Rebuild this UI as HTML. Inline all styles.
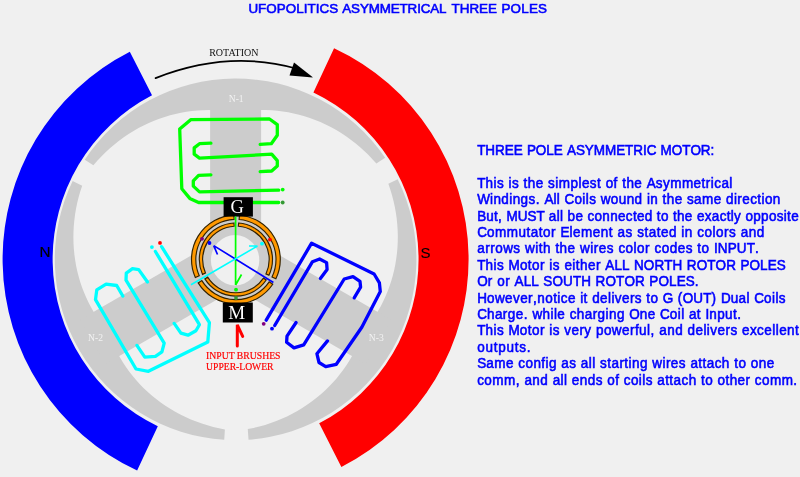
<!DOCTYPE html>
<html lang="en">
<head>
<meta charset="utf-8">
<title>UFOPOLITICS ASYMMETRICAL THREE POLES</title>
<style>
html,body{margin:0;padding:0;background:#f0f0f0;}
body{width:800px;height:477px;overflow:hidden;}
svg{display:block;will-change:transform;}
</style>
</head>
<body>
<svg width="800" height="477" viewBox="0 0 800 477">
<rect x="0" y="0" width="800" height="477" fill="#f0f0f0"/>
<path d="M334.07 48.13 A233.0 233.0 0 0 1 341.38 466.90 L319.18 423.33 A185.0 185.0 0 0 0 313.40 92.45 Z" fill="#ff0000"/>
<path d="M137.13 470.47 A233.0 233.0 0 0 1 129.82 51.70 L152.02 95.27 A185.0 185.0 0 0 0 157.80 426.15 Z" fill="#0000ff"/>
<path d="M84.75 159.64 A180.8 180.8 0 0 1 385.14 157.68 L376.39 163.62 L372.41 159.15 L368.29 154.84 L364.01 150.71 L359.61 146.76 L355.07 142.99 L350.42 139.41 L345.65 136.03 L340.78 132.84 L335.81 129.85 L330.75 127.06 L325.62 124.48 L320.41 122.11 L315.14 119.95 L309.82 118.00 L304.46 116.27 L299.06 114.75 L293.63 113.44 L288.18 112.35 L282.73 111.47 L277.27 110.80 L271.82 110.35 L266.39 110.11 L260.99 110.08 L255.62 110.26 L250.29 110.64 L245.01 111.23 L239.79 112.02 L234.64 112.61 L229.46 111.70 L224.22 110.99 L218.92 110.48 L213.58 110.17 L208.19 110.07 L202.78 110.18 L197.34 110.50 L191.89 111.03 L186.43 111.77 L180.98 112.73 L175.54 113.90 L170.12 115.29 L164.73 116.89 L159.38 118.71 L154.08 120.74 L148.84 122.98 L143.65 125.42 L138.55 128.08 L133.52 130.94 L128.59 134.01 L123.76 137.27 L119.03 140.73 L114.42 144.38 L109.93 148.21 L105.57 152.23 L101.36 156.43 L97.28 160.80 L93.37 165.34 Z" fill="#cccccc"/>
<path d="M397.68 179.19 A180.8 180.8 0 0 1 248.53 439.64 L247.77 429.12 L253.63 427.93 L259.42 426.52 L265.13 424.90 L270.75 423.07 L276.28 421.04 L281.71 418.81 L287.02 416.39 L292.22 413.78 L297.29 410.99 L302.24 408.02 L307.04 404.87 L311.70 401.57 L316.21 398.10 L320.56 394.48 L324.75 390.72 L328.78 386.81 L332.63 382.78 L336.31 378.63 L339.81 374.36 L343.12 369.98 L346.25 365.50 L349.18 360.93 L351.92 356.28 L354.46 351.55 L356.81 346.75 L358.95 341.90 L360.90 337.00 L362.82 332.16 L366.20 328.15 L369.45 323.98 L372.55 319.67 L375.50 315.21 L378.29 310.62 L380.91 305.90 L383.37 301.04 L385.65 296.08 L387.75 291.00 L389.66 285.81 L391.38 280.53 L392.91 275.16 L394.24 269.71 L395.36 264.18 L396.27 258.59 L396.98 252.94 L397.47 247.24 L397.75 241.50 L397.81 235.73 L397.64 229.93 L397.26 224.13 L396.66 218.31 L395.83 212.50 L394.78 206.70 L393.51 200.92 L392.01 195.17 L390.29 189.47 L388.35 183.81 Z" fill="#cccccc"/>
<path d="M224.25 439.74 A180.8 180.8 0 0 1 72.62 181.04 L82.20 185.64 L80.33 191.31 L78.69 197.02 L77.26 202.77 L76.06 208.55 L75.08 214.35 L74.33 220.15 L73.79 225.96 L73.48 231.75 L73.39 237.54 L73.51 243.29 L73.86 249.01 L74.42 254.69 L75.18 260.31 L76.16 265.88 L77.35 271.38 L78.73 276.80 L80.32 282.13 L82.09 287.38 L84.06 292.53 L86.21 297.57 L88.54 302.49 L91.04 307.30 L93.72 311.98 L96.55 316.53 L99.54 320.94 L102.68 325.21 L105.96 329.32 L109.04 333.48 L110.84 338.40 L112.84 343.29 L115.03 348.12 L117.43 352.89 L120.03 357.59 L122.82 362.21 L125.80 366.75 L128.98 371.20 L132.34 375.54 L135.88 379.78 L139.60 383.89 L143.49 387.88 L147.56 391.75 L151.79 395.47 L156.18 399.04 L160.72 402.46 L165.42 405.72 L170.25 408.81 L175.22 411.74 L180.32 414.48 L185.54 417.04 L190.88 419.41 L196.33 421.58 L201.87 423.56 L207.51 425.33 L213.23 426.89 L219.03 428.25 L224.90 429.38 Z" fill="#cccccc"/>
<rect x="210.10" y="94.30" width="51.0" height="145" fill="#cccccc" transform="rotate(0 235.6 259.3)"/>
<rect x="210.10" y="94.30" width="51.0" height="145" fill="#cccccc" transform="rotate(120 235.6 259.3)"/>
<rect x="210.10" y="94.30" width="51.0" height="145" fill="#cccccc" transform="rotate(240 235.6 259.3)"/>
<path d="M278.7 202.5 L198.6 202.5 L189.8 198.4 L181.8 188.7 L179.7 129 L190.7 119.7 L269.5 119 L277.3 124.6 L277.3 135.2 L271.3 143.7 L260.2 144.4" fill="none" stroke="#00ff00" stroke-width="3.3" stroke-linejoin="round" stroke-linecap="round" />
<path d="M210.9 143.1 L199.5 143.7 L194.2 147.9 L194.2 154.2 L199.5 158.1 L271.7 154.2 L277.3 160.7 L277.3 166 L271.7 171 L260.2 171.7" fill="none" stroke="#00ff00" stroke-width="3.3" stroke-linejoin="round" stroke-linecap="round" />
<path d="M210.9 174.8 L198.6 175.4 L193.3 180.8 L193.3 186.1 L199.5 191.9 L278.7 190.1" fill="none" stroke="#00ff00" stroke-width="3.3" stroke-linejoin="round" stroke-linecap="round" />
<circle cx="282.7" cy="189.6" r="1.9" fill="#00ff00"/>
<circle cx="282.7" cy="202.5" r="1.9" fill="#339933"/>
<path d="M161.6 246.7 L209.4 322.6 L207.8 342.0 L148.4 371.3 L136 369 L95.5 299.6 L96.8 289.9 L106.1 284.2 L116.7 285.5 L122.8 296" fill="none" stroke="#00ffff" stroke-width="3.3" stroke-linejoin="round" stroke-linecap="round" />
<path d="M136.9 345.4 L144.8 357.2 L155.4 356.3 L161.9 351.9 L164.2 343.1 L126 280.2 L126.3 273.1 L132.5 268.7 L138.7 269.6 L147.5 282" fill="none" stroke="#00ffff" stroke-width="3.3" stroke-linejoin="round" stroke-linecap="round" />
<path d="M174.2 323.4 L180.9 333.1 L188 335.2 L195.9 330.8 L199.4 324.7 L155.4 251.5" fill="none" stroke="#00ffff" stroke-width="3.3" stroke-linejoin="round" stroke-linecap="round" />
<circle cx="151.9" cy="247.1" r="1.9" fill="#00ffff"/>
<circle cx="160" cy="242.9" r="1.9" fill="#ff0000"/>
<path d="M266.2 320.2 L311.6 243.2 L374.1 274 L379.4 282.8 L380.3 291.6 L361.8 327.3 L336.3 364.3 L325.7 366.6 L319 362.5 L316.9 353.7 L327.5 340.9" fill="none" stroke="#0000ff" stroke-width="3.3" stroke-linejoin="round" stroke-linecap="round" />
<path d="M354.2 297.8 L360.6 287.2 L360 281.4 L353 276.7 L344.2 279 L303.7 344.9 L294 347.9 L286.6 342.3 L287 336.1 L296.1 322.5" fill="none" stroke="#0000ff" stroke-width="3.3" stroke-linejoin="round" stroke-linecap="round" />
<path d="M320.4 278.4 L327.1 269.6 L326.6 262.6 L319.6 259 L312.5 261.7 L274.7 325.5" fill="none" stroke="#0000ff" stroke-width="3.3" stroke-linejoin="round" stroke-linecap="round" />
<circle cx="263.7" cy="323.8" r="1.9" fill="#800080"/>
<circle cx="272" cy="328.7" r="1.9" fill="#0000ff"/>
<circle cx="235.9" cy="259.5" r="44.5" fill="#cccccc"/>
<ellipse cx="235.1" cy="260.2" rx="24.2" ry="25.2" fill="#f0f0f0"/>
<path d="M239.46 215.24 A44.4 44.4 0 0 1 275.87 278.82 L272.00 276.95 A40.1 40.1 0 0 0 239.12 219.53 Z" fill="#ff9900" stroke="#332200" stroke-width="1.15"/>
<path d="M272.75 284.26 A44.4 44.4 0 0 1 198.16 282.90 L201.82 280.63 A40.1 40.1 0 0 0 269.18 281.87 Z" fill="#ff9900" stroke="#332200" stroke-width="1.15"/>
<path d="M195.34 277.56 A44.4 44.4 0 0 1 233.89 215.15 L234.08 219.44 A40.1 40.1 0 0 0 199.27 275.81 Z" fill="#ff9900" stroke="#332200" stroke-width="1.15"/>
<path d="M238.58 223.00 A36.6 36.6 0 0 1 268.91 275.31 L265.93 273.89 A33.3 33.3 0 0 0 238.34 226.29 Z" fill="#ff9900" stroke="#332200" stroke-width="1.15"/>
<path d="M266.21 280.02 A36.6 36.6 0 0 1 204.86 278.90 L207.66 277.15 A33.3 33.3 0 0 0 263.47 278.17 Z" fill="#ff9900" stroke="#332200" stroke-width="1.15"/>
<path d="M202.46 274.39 A36.6 36.6 0 0 1 233.98 222.95 L234.16 226.25 A33.3 33.3 0 0 0 205.48 273.04 Z" fill="#ff9900" stroke="#332200" stroke-width="1.15"/>
<rect x="223.6" y="197.2" width="29.3" height="19.4" fill="#000"/>
<rect x="222.8" y="302.5" width="30" height="20" fill="#000"/>
<text x="237.1" y="213.2" font-family="'Liberation Serif',serif" font-size="18.5" fill="#fff" text-anchor="middle">G</text>
<text x="236.8" y="319.3" font-family="'Liberation Serif',serif" font-size="19" fill="#fff" text-anchor="middle">M</text>
<path d="M235.6 216.5 L235.6 285 M235.6 285 L241.5 274.5" stroke="#00ff00" stroke-width="1.7" fill="none"/>
<path d="M273.4 282.5 L213.7 245.6 M213.7 245.6 L217.5 254.5" stroke="#0000ff" stroke-width="1.7" fill="none"/>
<path d="M191 284.7 L257.5 246 M257.5 246 L249 246" stroke="#00ffff" stroke-width="1.6" fill="none"/>
<circle cx="202" cy="238.8" r="1.9" fill="#800080"/>
<circle cx="209.5" cy="243" r="1.9" fill="#0000ff"/>
<circle cx="262" cy="243.7" r="1.9" fill="#00ffff"/>
<circle cx="269.9" cy="239.6" r="1.9" fill="#ff0000"/>
<circle cx="236" cy="289.7" r="1.9" fill="#00ff00"/>
<circle cx="236" cy="298" r="1.9" fill="#339933"/>
<path d="M237.3 346 L237.3 324.8 L242.7 336.4" stroke="#ff0000" stroke-width="3" fill="none" stroke-linejoin="miter" stroke-linecap="round"/>
<path d="M155.6 78.1 Q 228 49.5 296 68.5" stroke="#000" stroke-width="1.75" fill="none" stroke-linecap="round"/>
<path d="M294 62.6 L313.1 77.6 L289.5 75.4 Z" fill="#000"/>
<text x="209.2" y="55.8" font-family="'Liberation Serif',serif" font-size="11" fill="#111" textLength="49.3" lengthAdjust="spacingAndGlyphs">ROTATION</text>
<text x="236.2" y="101.7" font-family="'Liberation Serif',serif" font-size="9.6" fill="#f2f2f2" text-anchor="middle">N-1</text>
<text x="95.5" y="340.5" font-family="'Liberation Serif',serif" font-size="9.6" fill="#f2f2f2" text-anchor="middle">N-2</text>
<text x="376.3" y="340.5" font-family="'Liberation Serif',serif" font-size="9.6" fill="#f2f2f2" text-anchor="middle">N-3</text>
<text x="206.1" y="358.9" font-family="'Liberation Serif',serif" font-size="10.7" fill="#ff0000" stroke="#ff0000" stroke-width="0.2" textLength="74.4" lengthAdjust="spacingAndGlyphs">INPUT BRUSHES</text>
<text x="206.1" y="370.0" font-family="'Liberation Serif',serif" font-size="10.7" fill="#ff0000" stroke="#ff0000" stroke-width="0.2" textLength="67.4" lengthAdjust="spacingAndGlyphs">UPPER-LOWER</text>
<text x="39.5" y="257.1" font-family="'Liberation Sans',sans-serif" font-size="15.2" fill="#000" stroke="#000" stroke-width="0.2">N</text>
<text x="420.5" y="258.3" font-family="'Liberation Sans',sans-serif" font-size="15.0" fill="#000" stroke="#000" stroke-width="0.1">S</text>
<text transform="translate(0 12.9) scale(1 1.0)" x="248.40" y="0" font-family="'Liberation Sans',sans-serif" font-size="13.4" fill="#0000ff" stroke="#0000ff" stroke-width="0.6" style="font-kerning:none" dx="0 0.04 0.04 0.04 0.04 0.04 0.04 0.04 0.04 0.04 0.04 0.00 0.38 -0.13 -0.13 -0.13 -0.13 -0.13 -0.13 -0.13 -0.13 -0.13 -0.13 -0.13 0.00 1.18 0.02 0.02 0.02 0.02 0.00 0.78 0.20 0.20 0.20 0.20">UFOPOLITICS ASYMMETRICAL THREE POLES</text>
<text transform="translate(0 154.9) scale(1 1.05)" x="477.2" y="0" font-family="'Liberation Sans',sans-serif" font-size="13.5" fill="#0000ff" stroke="#0000ff" stroke-width="0.55" style="font-kerning:none" dx="0 -0.06 -0.06 -0.06 -0.06 -0.06 0.50 -0.06 -0.06 -0.06 -0.06 0.50 -0.06 -0.06 -0.06 -0.06 -0.06 -0.06 -0.06 -0.06 -0.06 -0.06 0.50 -0.06 -0.06 -0.06 -0.06 -0.06">THREE POLE ASYMMETRIC MOTOR:</text>
<text transform="translate(0 187.7) scale(1 1.05)" x="477.2" y="0" font-family="'Liberation Sans',sans-serif" font-size="13.5" fill="#0000ff" stroke="#0000ff" stroke-width="0.55" style="font-kerning:none" dx="0 0.09 0.45 0.45 0.45 0.65 0.45 0.45 0.65 0.45 0.45 0.45 0.65 0.45 0.45 0.45 0.45 0.45 0.45 0.45 0.45 0.65 0.45 0.45 0.65 0.45 0.45 0.45 0.65 0.09 0.45 0.45 0.45 0.45 0.45 0.45 0.45 0.45 0.45 0.45">This is the simplest of the Asymmetrical</text>
<text transform="translate(0 204.1) scale(1 1.05)" x="477.2" y="0" font-family="'Liberation Sans',sans-serif" font-size="13.5" fill="#0000ff" stroke="#0000ff" stroke-width="0.55" style="font-kerning:none" dx="0 0.05 0.41 0.41 0.41 0.41 0.41 0.41 0.41 0.61 0.61 0.05 0.41 0.41 0.61 0.05 0.41 0.41 0.41 0.41 0.61 0.41 0.41 0.41 0.41 0.41 0.61 0.41 0.41 0.61 0.41 0.41 0.41 0.61 0.41 0.41 0.41 0.41 0.61 0.41 0.41 0.41 0.41 0.41 0.41 0.41 0.41">Windings. All Coils wound in the same direction</text>
<text transform="translate(0 220.5) scale(1 1.05)" x="477.2" y="0" font-family="'Liberation Sans',sans-serif" font-size="13.5" fill="#0000ff" stroke="#0000ff" stroke-width="0.55" style="font-kerning:none" dx="0 -0.05 0.31 0.31 0.51 0.51 -0.05 -0.05 -0.05 -0.05 0.51 0.31 0.31 0.31 0.51 0.31 0.31 0.51 0.31 0.31 0.31 0.31 0.31 0.31 0.31 0.31 0.31 0.51 0.31 0.31 0.51 0.31 0.31 0.31 0.51 0.31 0.31 0.31 0.31 0.31 0.31 0.31 0.51 0.31 0.31 0.31 0.31 0.31 0.31 0.31">But, MUST all be connected to the exactly opposite</text>
<text transform="translate(0 236.9) scale(1 1.05)" x="477.2" y="0" font-family="'Liberation Sans',sans-serif" font-size="13.5" fill="#0000ff" stroke="#0000ff" stroke-width="0.55" style="font-kerning:none" dx="0 0.13 0.49 0.49 0.49 0.49 0.49 0.49 0.49 0.49 0.49 0.69 0.13 0.49 0.49 0.49 0.49 0.49 0.49 0.69 0.49 0.49 0.69 0.49 0.49 0.49 0.49 0.49 0.49 0.69 0.49 0.49 0.69 0.49 0.49 0.49 0.49 0.49 0.49 0.69 0.49 0.49">Commutator Element as stated in colors and</text>
<text transform="translate(0 253.3) scale(1 1.05)" x="477.2" y="0" font-family="'Liberation Sans',sans-serif" font-size="13.5" fill="#0000ff" stroke="#0000ff" stroke-width="0.55" style="font-kerning:none" dx="0 0.48 0.48 0.48 0.48 0.48 0.48 0.68 0.48 0.48 0.48 0.48 0.68 0.48 0.48 0.48 0.68 0.48 0.48 0.48 0.48 0.48 0.68 0.48 0.48 0.48 0.48 0.48 0.68 0.48 0.48 0.48 0.48 0.48 0.68 0.48 0.48 0.68 0.12 0.12 0.12 0.12 0.12">arrows with the wires color codes to INPUT.</text>
<text transform="translate(0 269.7) scale(1 1.05)" x="477.2" y="0" font-family="'Liberation Sans',sans-serif" font-size="13.5" fill="#0000ff" stroke="#0000ff" stroke-width="0.55" style="font-kerning:none" dx="0 0.09 0.45 0.45 0.45 0.65 0.09 0.45 0.45 0.45 0.45 0.65 0.45 0.45 0.65 0.45 0.45 0.45 0.45 0.45 0.45 0.65 0.09 0.09 0.09 0.65 0.09 0.09 0.09 0.09 0.09 0.65 0.09 0.09 0.09 0.09 0.09 0.65 0.09 0.09 0.09 0.09">This Motor is either ALL NORTH ROTOR POLES</text>
<text transform="translate(0 286.1) scale(1 1.05)" x="477.2" y="0" font-family="'Liberation Sans',sans-serif" font-size="13.5" fill="#0000ff" stroke="#0000ff" stroke-width="0.55" style="font-kerning:none" dx="0 0.11 0.47 0.67 0.47 0.47 0.67 0.11 0.11 0.11 0.67 0.11 0.11 0.11 0.11 0.11 0.67 0.11 0.11 0.11 0.11 0.11 0.67 0.11 0.11 0.11 0.11 0.11">Or or ALL SOUTH ROTOR POLES.</text>
<text transform="translate(0 302.5) scale(1 1.05)" x="477.2" y="0" font-family="'Liberation Sans',sans-serif" font-size="13.5" fill="#0000ff" stroke="#0000ff" stroke-width="0.55" style="font-kerning:none" dx="0 0.05 0.41 0.41 0.41 0.41 0.41 0.41 0.61 0.41 0.41 0.41 0.41 0.41 0.41 0.61 0.41 0.41 0.61 0.41 0.41 0.41 0.41 0.41 0.41 0.41 0.41 0.61 0.41 0.41 0.61 0.05 0.61 0.61 0.05 0.05 0.05 0.61 0.61 0.05 0.41 0.41 0.41 0.61 0.05 0.41 0.41 0.41">However,notice it delivers to G (OUT) Dual Coils</text>
<text transform="translate(0 318.9) scale(1 1.05)" x="477.2" y="0" font-family="'Liberation Sans',sans-serif" font-size="13.5" fill="#0000ff" stroke="#0000ff" stroke-width="0.55" style="font-kerning:none" dx="0 0.06 0.42 0.42 0.42 0.42 0.42 0.62 0.62 0.42 0.42 0.42 0.42 0.42 0.62 0.42 0.42 0.42 0.42 0.42 0.42 0.42 0.42 0.62 0.06 0.42 0.42 0.62 0.06 0.42 0.42 0.42 0.62 0.42 0.42 0.62 0.06 0.42 0.42 0.42 0.42">Charge. while charging One Coil at Input.</text>
<text transform="translate(0 335.3) scale(1 1.05)" x="477.2" y="0" font-family="'Liberation Sans',sans-serif" font-size="13.5" fill="#0000ff" stroke="#0000ff" stroke-width="0.55" style="font-kerning:none" dx="0 0.08 0.44 0.44 0.44 0.64 0.08 0.44 0.44 0.44 0.44 0.64 0.44 0.44 0.64 0.44 0.44 0.44 0.44 0.64 0.44 0.44 0.44 0.44 0.44 0.44 0.44 0.44 0.64 0.64 0.44 0.44 0.44 0.64 0.44 0.44 0.44 0.44 0.44 0.44 0.44 0.44 0.64 0.44 0.44 0.44 0.44 0.44 0.44 0.44 0.44">This Motor is very powerful, and delivers excellent</text>
<text transform="translate(0 351.7) scale(1 1.05)" x="477.2" y="0" font-family="'Liberation Sans',sans-serif" font-size="13.5" fill="#0000ff" stroke="#0000ff" stroke-width="0.55" style="font-kerning:none" dx="0 0.74 0.74 0.74 0.74 0.74 0.74 0.74">outputs.</text>
<text transform="translate(0 368.1) scale(1 1.05)" x="477.2" y="0" font-family="'Liberation Sans',sans-serif" font-size="13.5" fill="#0000ff" stroke="#0000ff" stroke-width="0.55" style="font-kerning:none" dx="0 0.08 0.44 0.44 0.44 0.64 0.44 0.44 0.44 0.44 0.44 0.44 0.64 0.44 0.44 0.64 0.44 0.44 0.44 0.64 0.44 0.44 0.44 0.44 0.44 0.44 0.44 0.44 0.64 0.44 0.44 0.44 0.44 0.44 0.64 0.44 0.44 0.44 0.44 0.44 0.44 0.64 0.44 0.44 0.64 0.44 0.44">Same config as all starting wires attach to one</text>
<text transform="translate(0 384.5) scale(1 1.05)" x="477.2" y="0" font-family="'Liberation Sans',sans-serif" font-size="13.5" fill="#0000ff" stroke="#0000ff" stroke-width="0.55" style="font-kerning:none" dx="0 0.43 0.43 0.43 0.43 0.63 0.63 0.43 0.43 0.43 0.63 0.43 0.43 0.43 0.63 0.43 0.43 0.43 0.43 0.63 0.43 0.43 0.63 0.43 0.43 0.43 0.43 0.43 0.63 0.43 0.43 0.43 0.43 0.43 0.43 0.63 0.43 0.43 0.63 0.43 0.43 0.43 0.43 0.43 0.63 0.43 0.43 0.43 0.43">comm, and all ends of coils attach to other comm.</text>
</svg>
</body>
</html>
